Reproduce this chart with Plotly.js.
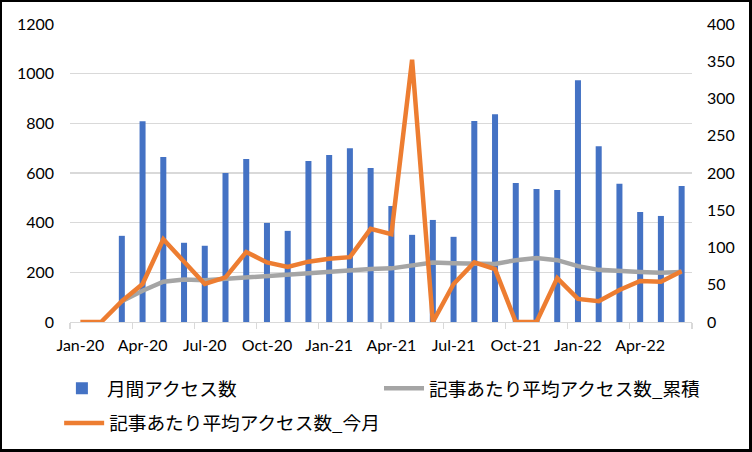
<!DOCTYPE html>
<html><head><meta charset="utf-8">
<script src="https://cdn.plot.ly/plotly-3.0.1.min.js"></script>
<style>
html,body{margin:0;padding:0;background:#fff;}
#chart{width:747px;height:447px;border-style:solid;border-color:#000;border-width:2px 3px 3px 2px;}
</style></head><body><div id="chart"></div>
<script>
const months = ["Jan-20","Feb-20","Mar-20","Apr-20","May-20","Jun-20","Jul-20","Aug-20","Sep-20","Oct-20","Nov-20","Dec-20",
  "Jan-21","Feb-21","Mar-21","Apr-21","May-21","Jun-21","Jul-21","Aug-21","Sep-21","Oct-21","Nov-21","Dec-21",
  "Jan-22","Feb-22","Mar-22","Apr-22","May-22","Jun-22"];
const monthlyAccess = [0,0,347,808,664,319,307,600,656,399,367,648,
  672,700,620,467,351,411,343,809,837,560,536,532,
  973,708,557,443,427,548];
const avgCumulative = [null,null,28,42,54,57,56,58,60,62,64,66,
  68,69,71,72,76,80,79,79,78,83,86,83,
  75,70,68,67,66,67];
const avgThisMonth = [0,0,28,51,111,81,51,60,94,80,74,81,
  85,87,125,118,352,0,51,80,71,0,0,59,
  31,28,43,55,54,68];
const seriesNames = ["月間アクセス数","記事あたり平均アクセス数_累積","記事あたり平均アクセス数_今月"];

const tickFont = {family:"Lato, 'Liberation Sans', sans-serif", size:16, color:"#000"};
const legendFont = {family:"'Noto Sans CJK JP', sans-serif", size:18.67, color:"#000"};
const traces = [
  {type:"bar", x:months, y:monthlyAccess, name:seriesNames[0], marker:{color:"#4472C4"}, yaxis:"y", legend:"legend"},
  {type:"scatter", mode:"lines", x:months, y:avgCumulative, name:seriesNames[1], line:{color:"#A5A5A5", width:4.5}, yaxis:"y2", legend:"legend3"},
  {type:"scatter", mode:"lines", x:months, y:avgThisMonth, name:seriesNames[2], line:{color:"#ED7D31", width:4.5}, yaxis:"y2", legend:"legend2"}
];
const legendBase = {orientation:"h", xref:"container", yref:"container", xanchor:"left", yanchor:"top",
  font:legendFont, itemwidth:40, traceorder:"normal", valign:"middle"};
const layout = {
  width:747, height:447,
  margin:{l:68, r:57, t:22, b:127},
  paper_bgcolor:"#fff", plot_bgcolor:"#fff",
  bargap:0.71,
  showlegend:true,
  xaxis:{type:"category", tickmode:"linear", tick0:0, dtick:3, tickson:"boundaries",
    ticks:"outside", ticklen:6, tickcolor:"#d9d9d9", tickwidth:1.3,
    showline:true, linecolor:"#d9d9d9", linewidth:1.3, showgrid:false, zeroline:false,
    tickfont:tickFont, tickangle:0, ticklabelstandoff:8},
  yaxis:{range:[0,1200], dtick:200, tick0:0, gridcolor:"#d9d9d9", gridwidth:1.3, showline:false, zeroline:false,
    ticks:"", tickfont:tickFont, ticklabelstandoff:15},
  yaxis2:{range:[0,400], dtick:50, tick0:0, overlaying:"y", side:"right", showgrid:false, zeroline:false, showline:false,
    ticks:"", tickfont:tickFont, ticklabelstandoff:14},
  legend:Object.assign({}, legendBase, {x:0.0735, y:0.1774}),
  legend3:Object.assign({}, legendBase, {x:0.5047, y:0.1774}),
  legend2:Object.assign({}, legendBase, {x:0.0765, y:0.0996})
};
Plotly.newPlot("chart", traces, layout, {displayModeBar:false, staticPlot:true});
</script></body></html>
